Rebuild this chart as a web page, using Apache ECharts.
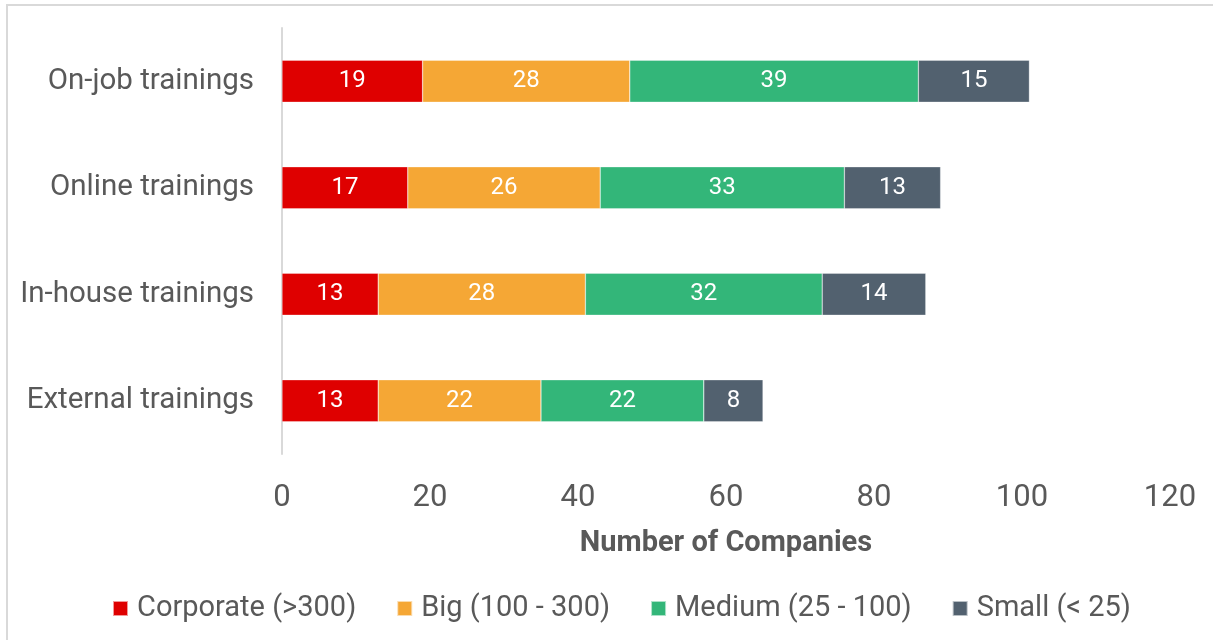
<!DOCTYPE html>
<html><head><meta charset="utf-8">
<script src="https://cdn.jsdelivr.net/npm/echarts@6/dist/echarts.min.js"></script>
<style>html,body{margin:0;padding:0;background:#fff}#c{width:1213px;height:640px}</style>
</head><body><div id="c"></div>
<script>
const categories = ['External trainings', 'In-house trainings', 'Online trainings', 'On-job trainings'];
const seriesNames = ['Corporate (>300)', 'Big (100 - 300)', 'Medium (25 - 100)', 'Small (< 25)'];
const corporate = [13, 13, 17, 19];
const big = [22, 28, 26, 28];
const medium = [22, 32, 33, 39];
const small = [8, 14, 13, 15];
const xTicks = [0, 20, 40, 60, 80, 100, 120];
const colors = ['#DF0000', '#F5A735', '#33B679', '#52616F'];

const values = [corporate, big, medium, small];
const chart = echarts.init(document.getElementById('c'));
const font = 'Roboto, "Noto Sans", sans-serif';
chart.setOption({
  animation: false,
  textStyle: { fontFamily: font },
  graphic: [{ type: 'rect', shape: { x: 7, y: 5, width: 1220, height: 650 }, style: { fill: 'none', stroke: '#d9d9d9', lineWidth: 2 }, silent: true }],
  grid: { left: 282, right: 43, top: 28, bottom: 186, containLabel: false },
  legend: {
    top: 589, left: 107, itemWidth: 15, itemHeight: 15, itemGap: 40, icon: 'rect',
    textStyle: { fontSize: 29, color: '#595959', fontFamily: font, padding: [0, 0, 0, 4] },
    data: seriesNames
  },
  xAxis: {
    type: 'value', min: xTicks[0], max: xTicks[xTicks.length - 1], interval: 20,
    axisLine: { show: false }, axisTick: { show: false }, splitLine: { show: false },
    axisLabel: { fontSize: 31, color: '#595959', margin: 29 },
    name: 'Number of Companies', nameLocation: 'middle', nameGap: 75,
    nameTextStyle: { fontSize: 29, fontWeight: 'bold', color: '#595959' }
  },
  yAxis: {
    type: 'category', data: categories,
    axisLine: { show: true, lineStyle: { color: '#d9d9d9', width: 2 } },
    axisTick: { show: false },
    axisLabel: { fontSize: 29.5, color: '#595959', margin: 28 }
  },
  series: seriesNames.map((n, i) => ({
    name: n, type: 'bar', stack: 'total', data: values[i], barWidth: 42,
    itemStyle: { color: colors[i], borderColor: 'rgba(255,255,255,0.6)', borderWidth: 0.5 },
    label: { show: true, position: 'inside', color: '#fff', fontSize: 24, fontFamily: font }
  }))
});
</script></body></html>
